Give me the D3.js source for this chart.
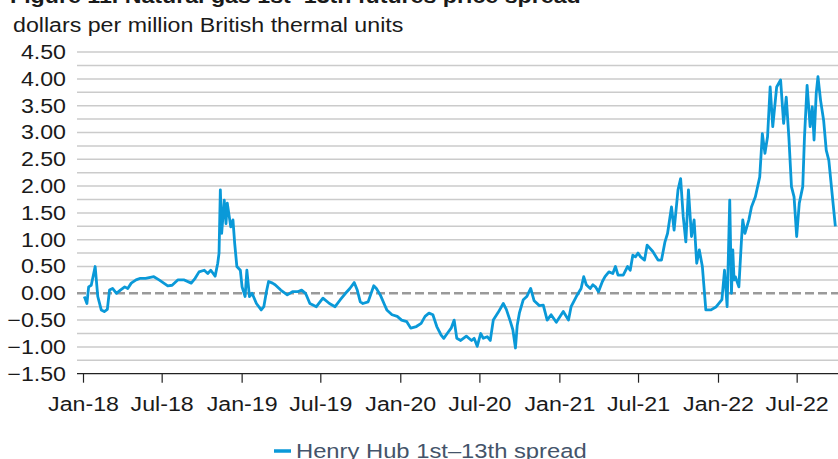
<!DOCTYPE html>
<html>
<head>
<meta charset="utf-8" />
<script src="https://cdn.jsdelivr.net/npm/d3@7"></script>
<style>
  body { margin: 0; background: #fff; }
  svg { display: block; }
  .title { font: bold 20px "Liberation Sans", Arial, sans-serif; fill: #1a1a1a; }
  .unit { font: 20px "Liberation Sans", Arial, sans-serif; fill: #1a1a1a; }
  .tick text { font: 20px "Liberation Sans", Arial, sans-serif; fill: #1a1a1a; }
  .legend text { font: 20.5px "Liberation Sans", Arial, sans-serif; fill: #44546a; }
</style>
</head>
<body>
<script>
var width = 838;
var height = 459;
var stretch = 1.16;  // the source figure's text is a little wide

// Henry Hub 1st-13th futures spread, $/MMBtu
var dates = [
  "2018-01-04","2018-01-10","2018-01-14","2018-01-20","2018-01-29","2018-02-04","2018-02-12","2018-02-19","2018-02-26",
  "2018-03-03","2018-03-10","2018-03-19","2018-03-28","2018-04-07","2018-04-14","2018-04-22","2018-05-03","2018-05-13",
  "2018-05-25","2018-06-13","2018-06-25","2018-07-15","2018-07-25","2018-08-07","2018-08-22","2018-09-07","2018-09-16",
  "2018-09-25","2018-10-07","2018-10-15","2018-10-22","2018-11-01","2018-11-07","2018-11-10","2018-11-13","2018-11-16",
  "2018-11-22","2018-11-26","2018-11-29","2018-12-07","2018-12-12","2018-12-16","2018-12-21","2018-12-29","2019-01-02",
  "2019-01-09","2019-01-13","2019-01-19","2019-01-25","2019-02-04","2019-02-15","2019-02-21","2019-02-27","2019-03-04",
  "2019-03-13","2019-03-19","2019-04-01","2019-04-16","2019-04-28","2019-05-10","2019-05-19","2019-05-28","2019-06-07",
  "2019-06-22","2019-07-07","2019-07-22","2019-08-04","2019-08-16","2019-08-28","2019-09-07","2019-09-17","2019-09-24",
  "2019-10-01","2019-10-07","2019-10-19","2019-11-01","2019-11-07","2019-11-16","2019-11-25","2019-12-01","2019-12-13",
  "2019-12-25","2020-01-04","2020-01-16","2020-01-25","2020-02-07","2020-02-18","2020-02-27","2020-03-07","2020-03-16",
  "2020-03-25","2020-04-04","2020-04-10","2020-04-18","2020-04-27","2020-05-04","2020-05-10","2020-05-19","2020-06-01",
  "2020-06-13","2020-06-19","2020-06-26","2020-07-04","2020-07-10","2020-07-19","2020-07-26","2020-08-02","2020-08-13",
  "2020-08-25","2020-09-01","2020-09-10","2020-09-16","2020-09-22","2020-09-26","2020-10-01","2020-10-10","2020-10-18",
  "2020-10-27","2020-11-04","2020-11-16","2020-11-25","2020-12-04","2020-12-13","2020-12-25","2021-01-10","2021-01-22",
  "2021-01-28","2021-02-09","2021-02-20","2021-02-26","2021-03-04","2021-03-13","2021-03-19","2021-03-25","2021-04-01",
  "2021-04-10","2021-04-16","2021-04-25","2021-05-04","2021-05-10","2021-05-16","2021-05-28","2021-06-07","2021-06-13",
  "2021-06-19","2021-06-25","2021-07-01","2021-07-07","2021-07-16","2021-07-22","2021-08-04","2021-08-16","2021-08-24",
  "2021-09-01","2021-09-07","2021-09-16","2021-09-22","2021-10-01","2021-10-07","2021-10-13","2021-10-19","2021-10-25",
  "2021-11-01","2021-11-07","2021-11-13","2021-11-19","2021-11-26","2021-12-04","2021-12-16","2021-12-28","2022-01-10",
  "2022-01-16","2022-01-22","2022-01-28","2022-02-01","2022-02-04","2022-02-07","2022-02-10","2022-02-18","2022-02-24",
  "2022-02-27","2022-03-04","2022-03-13","2022-03-19","2022-03-28","2022-04-07","2022-04-13","2022-04-19","2022-04-25",
  "2022-05-01","2022-05-07","2022-05-16","2022-05-25","2022-06-01","2022-06-07","2022-06-13","2022-06-19","2022-06-25",
  "2022-07-01","2022-07-07","2022-07-15","2022-07-19","2022-07-25","2022-08-01","2022-08-06","2022-08-10","2022-08-15",
  "2022-08-19","2022-08-25","2022-09-01","2022-09-07","2022-09-13","2022-09-22","2022-09-28"
];
var spread = [
  -0.06,-0.19,0.12,0.15,0.50,-0.06,-0.31,-0.34,-0.30,
  0.06,0.09,0.00,0.06,0.12,0.09,0.19,0.25,0.28,
  0.28,0.31,0.25,0.14,0.15,0.25,0.25,0.19,0.28,
  0.40,0.43,0.37,0.43,0.32,0.56,0.75,1.93,1.12,
  1.74,1.30,1.68,1.24,1.37,0.93,0.50,0.43,0.12,
  -0.06,0.43,-0.06,0.00,-0.19,-0.31,-0.25,0.03,0.22,
  0.19,0.16,0.06,-0.03,0.03,0.03,0.06,0.00,-0.19,
  -0.25,-0.09,-0.19,-0.25,-0.12,0.00,0.09,0.20,0.06,
  -0.16,-0.19,-0.16,0.14,0.09,-0.03,-0.20,-0.31,-0.40,
  -0.43,-0.50,-0.53,-0.65,-0.62,-0.56,-0.43,-0.37,-0.40,
  -0.62,-0.78,-0.84,-0.75,-0.65,-0.50,-0.84,-0.88,-0.80,
  -0.88,-0.84,-0.99,-0.75,-0.84,-0.81,-0.88,-0.50,-0.36,
  -0.19,-0.30,-0.52,-0.68,-1.02,-0.60,-0.37,-0.12,-0.06,
  0.09,-0.14,-0.23,-0.22,-0.50,-0.40,-0.54,-0.34,-0.50,
  -0.25,-0.06,0.09,0.31,0.16,0.09,0.16,0.12,0.03,
  0.22,0.31,0.40,0.37,0.50,0.34,0.34,0.50,0.43,
  0.71,0.68,0.75,0.68,0.62,0.90,0.78,0.62,0.62,
  0.96,1.12,1.61,1.18,1.93,2.14,1.43,0.96,1.93,
  1.06,1.37,0.56,0.81,0.50,-0.31,-0.31,-0.25,-0.12,
  0.43,-0.25,1.74,0.00,0.81,0.25,0.31,0.12,0.99,
  1.37,1.12,1.37,1.61,1.80,2.17,2.98,2.61,2.92,
  3.85,3.11,3.85,3.98,3.17,3.66,2.92,1.99,1.80,
  1.06,1.68,1.99,2.92,3.88,3.11,3.48,2.86,3.73,
  4.04,3.60,3.23,2.67,2.48,1.74,1.25
];
var yTicks = [-1.5, -1.0, -0.5, 0, 0.5, 1.0, 1.5, 2.0, 2.5, 3.0, 3.5, 4.0, 4.5];
var gridStep = 0.25;
var seriesName = "Henry Hub 1st\u201313th spread";
var titleText = "Figure 11. Natural gas 1st\u201313th futures price spread";
var unitText = "dollars per million British thermal units";

var parse = d3.timeParse("%Y-%m-%d");
var data = dates.map(function(d, i) { return { date: parse(d), value: spread[i] }; });

var plotLeft = 77, plotRight = width;
var x = d3.scaleTime()
  .domain([new Date(2018, 0, 1), new Date(2022, 0, 1)])
  .range([83, 718]);
// let the time axis run on to the right edge of the figure
x.domain([new Date(2018, 0, 1), x.invert(plotRight)]).range([83, plotRight]);

var y = d3.scaleLinear()
  .domain([-1.5, 4.5])
  .range([373.7, 52.1]);

var svg = d3.select("body").append("svg")
  .attr("width", width)
  .attr("height", height);

function widen(sel) {
  sel.attr("transform", function() {
    var px = +d3.select(this).attr("x") || 0;
    return "translate(" + px + ",0) scale(" + stretch + ",1) translate(" + (-px) + ",0)";
  });
}

svg.append("text").attr("class", "title")
  .attr("x", 10).attr("y", 3)
  .text(titleText)
  .call(widen);
svg.append("text").attr("class", "unit")
  .attr("x", 13).attr("y", 32)
  .text(unitText)
  .call(widen);

// grid lines every 0.25
var gridVals = d3.range(-1.25, 4.5 + 1e-9, gridStep).filter(function(v) { return Math.abs(v) > 1e-9; });
svg.append("g").selectAll("line")
  .data(gridVals)
  .enter().append("line")
  .attr("x1", plotLeft).attr("x2", plotRight)
  .attr("y1", function(d) { return y(d); })
  .attr("y2", function(d) { return y(d); })
  .attr("stroke", "#cbcbcb")
  .attr("stroke-width", 1.5);

// zero line
svg.append("line")
  .attr("x1", plotLeft).attr("x2", plotRight)
  .attr("y1", y(0)).attr("y2", y(0))
  .attr("stroke", "#9a9a9a")
  .attr("stroke-width", 2.5)
  .attr("stroke-dasharray", "9,4");

// y labels
var yAxis = svg.append("g")
  .attr("transform", "translate(" + (plotLeft - 11) + ",0)")
  .call(d3.axisLeft(y).tickValues(yTicks).tickSize(0).tickPadding(0)
    .tickFormat(d3.format(".2f")));
yAxis.select(".domain").remove();
yAxis.selectAll(".tick text").attr("transform", "scale(" + stretch + ",1)");

// x axis
var xAxis = svg.append("g")
  .attr("transform", "translate(0," + y(-1.5) + ")")
  .call(d3.axisBottom(x)
    .ticks(d3.timeMonth.every(6))
    .tickSize(9).tickPadding(14)
    .tickFormat(d3.timeFormat("%b-%y")));
xAxis.select(".domain").remove();
xAxis.selectAll(".tick line").attr("stroke", "#222").attr("stroke-width", 1.2);
xAxis.selectAll(".tick text").attr("transform", "scale(" + stretch + ",1)");
svg.append("line")
  .attr("x1", plotLeft).attr("x2", plotRight)
  .attr("y1", y(-1.5)).attr("y2", y(-1.5))
  .attr("stroke", "#222").attr("stroke-width", 1.2);

// series
svg.append("clipPath").attr("id", "clip")
  .append("rect").attr("x", plotLeft).attr("y", 40)
  .attr("width", plotRight - plotLeft).attr("height", 340);

var line = d3.line()
  .x(function(d) { return x(d.date); })
  .y(function(d) { return y(d.value); });

svg.append("path")
  .datum(data)
  .attr("clip-path", "url(#clip)")
  .attr("fill", "none")
  .attr("stroke", "#0a99d8")
  .attr("stroke-width", 2.8)
  .attr("stroke-linejoin", "round")
  .attr("d", line);

// legend
var legend = svg.append("g").attr("class", "legend");
legend.append("line")
  .attr("x1", 274).attr("x2", 291)
  .attr("y1", 451).attr("y2", 451)
  .attr("stroke", "#0a99d8").attr("stroke-width", 3.5);
legend.append("text")
  .attr("x", 296).attr("y", 458)
  .text(seriesName)
  .call(widen);
</script>
</body>
</html>
